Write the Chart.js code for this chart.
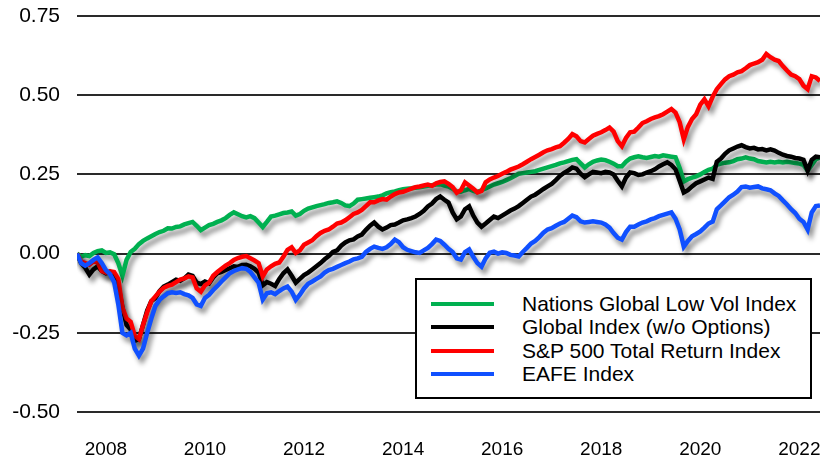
<!DOCTYPE html>
<html>
<head>
<meta charset="utf-8">
<script src="https://cdn.jsdelivr.net/npm/chart.js@4.4.1/dist/chart.umd.min.js"></script>
<style>
  html, body { margin: 0; padding: 0; background: #fff; }
  #wrap { position: relative; width: 826px; height: 459px; }
  #legend {
    position: absolute; left: 415px; top: 278px; width: 393px; height: 117px;
    border: 2px solid #000; background: #fff; box-sizing: content-box;
    font-family: 'Liberation Sans', Arial, sans-serif; font-size: 21px; color: #000;
  }
  #legend .row { position: absolute; left: 0; height: 24px; line-height: 24px; white-space: nowrap; }
  #legend .sw { position: absolute; left: 14px; top: 10px; width: 63px; height: 4px; }
  #legend .lb { position: absolute; left: 105px; top: 0; }
</style>
</head>
<body>
<div id="wrap">
  <canvas id="grafico" width="826" height="459"></canvas>
  <div id="legend"></div>
</div>
<script>
// monthly points, first one is Dec 2007
const inicioAno = 2007;
const inicioMes = 12;

const rotulosAnos = [2008, 2010, 2012, 2014, 2016, 2018, 2020, 2022];
const ticksY = [-0.5, -0.25, 0, 0.25, 0.5, 0.75];

const nomes = [
  'Nations Global Low Vol Index',
  'Global Index (w/o Options)',
  'S&P 500 Total Return Index',
  'EAFE Index'
];
const cores = ['#00b050', '#000000', '#ff0000', '#1050ff'];

const lowVol = [
  0.000, -0.010, -0.005, -0.008, 0.002, 0.008, 0.010, 0.002, 0.004, -0.002,
  -0.030, -0.070, -0.020, 0.005, 0.015, 0.030, 0.040, 0.048, 0.055, 0.062,
  0.068, 0.072, 0.080, 0.079, 0.084, 0.086, 0.092, 0.096, 0.100, 0.088,
  0.074, 0.082, 0.090, 0.094, 0.100, 0.105, 0.112, 0.122, 0.130, 0.124,
  0.118, 0.114, 0.118, 0.112, 0.098, 0.084, 0.100, 0.117, 0.120, 0.124,
  0.128, 0.130, 0.133, 0.120, 0.125, 0.135, 0.142, 0.146, 0.150, 0.153,
  0.156, 0.160, 0.162, 0.165, 0.160, 0.152, 0.150, 0.158, 0.170, 0.172,
  0.174, 0.176, 0.178, 0.180, 0.184, 0.190, 0.194, 0.196, 0.200, 0.203,
  0.205, 0.206, 0.208, 0.209, 0.212, 0.214, 0.216, 0.218, 0.219, 0.215,
  0.212, 0.205, 0.196, 0.195, 0.200, 0.204, 0.198, 0.194, 0.200, 0.206,
  0.212, 0.218, 0.222, 0.226, 0.232, 0.238, 0.245, 0.252, 0.254, 0.256,
  0.258, 0.260, 0.264, 0.268, 0.272, 0.276, 0.280, 0.285, 0.288, 0.292,
  0.296, 0.298, 0.285, 0.272, 0.282, 0.290, 0.294, 0.297, 0.295, 0.290,
  0.284, 0.276, 0.276, 0.290, 0.300, 0.304, 0.307, 0.304, 0.302, 0.305,
  0.308, 0.306, 0.310, 0.308, 0.306, 0.304, 0.270, 0.228, 0.235, 0.240,
  0.244, 0.250, 0.258, 0.264, 0.268, 0.280, 0.284, 0.287, 0.288, 0.292,
  0.298, 0.300, 0.304, 0.300, 0.298, 0.292, 0.290, 0.288, 0.290, 0.288,
  0.290, 0.288, 0.290, 0.288, 0.286, 0.284, 0.280, 0.262, 0.280, 0.298,
  0.303
];

const globalIdx = [
  0.000, -0.030, -0.045, -0.066, -0.050, -0.040, -0.055, -0.062, -0.058, -0.072,
  -0.100, -0.170, -0.225, -0.240, -0.275, -0.270, -0.225, -0.180, -0.150, -0.140,
  -0.118, -0.104, -0.098, -0.090, -0.082, -0.086, -0.078, -0.066, -0.070, -0.092,
  -0.096, -0.088, -0.094, -0.075, -0.062, -0.058, -0.052, -0.046, -0.040, -0.042,
  -0.036, -0.035, -0.040, -0.048, -0.060, -0.100, -0.090, -0.095, -0.102, -0.080,
  -0.062, -0.050, -0.070, -0.092, -0.080, -0.068, -0.060, -0.050, -0.040, -0.030,
  -0.018, -0.008, 0.005, 0.010, 0.025, 0.035, 0.042, 0.045, 0.054, 0.060,
  0.075, 0.088, 0.098, 0.085, 0.076, 0.082, 0.090, 0.092, 0.098, 0.105,
  0.108, 0.112, 0.117, 0.125, 0.135, 0.149, 0.158, 0.172, 0.180, 0.170,
  0.161, 0.130, 0.108, 0.117, 0.140, 0.149, 0.120, 0.098, 0.085, 0.095,
  0.106, 0.117, 0.112, 0.120, 0.128, 0.136, 0.142, 0.150, 0.160, 0.170,
  0.180, 0.186, 0.195, 0.204, 0.212, 0.220, 0.232, 0.245, 0.255, 0.262,
  0.272, 0.268, 0.252, 0.241, 0.250, 0.258, 0.256, 0.254, 0.258, 0.256,
  0.250, 0.230, 0.212, 0.240, 0.256, 0.254, 0.248, 0.250, 0.256, 0.260,
  0.266, 0.275, 0.282, 0.288, 0.280, 0.266, 0.230, 0.193, 0.200, 0.212,
  0.222, 0.228, 0.234, 0.240, 0.236, 0.290, 0.300, 0.315, 0.326, 0.332,
  0.338, 0.342, 0.336, 0.332, 0.334, 0.329, 0.330, 0.326, 0.329, 0.325,
  0.318, 0.312, 0.308, 0.306, 0.302, 0.300, 0.296, 0.262, 0.296, 0.306,
  0.304
];

const sp500 = [
  0.000, -0.025, -0.030, -0.035, -0.025, -0.028, -0.055, -0.060, -0.056, -0.058,
  -0.080, -0.170, -0.205, -0.215, -0.260, -0.270, -0.225, -0.185, -0.150, -0.135,
  -0.120, -0.108, -0.102, -0.098, -0.090, -0.082, -0.078, -0.072, -0.075, -0.110,
  -0.120, -0.100, -0.092, -0.070, -0.058, -0.048, -0.038, -0.030, -0.020, -0.014,
  -0.010, -0.008, -0.015, -0.022, -0.030, -0.072, -0.050, -0.040, -0.032, -0.028,
  -0.010, 0.012, 0.020, 0.002, 0.010, 0.028, 0.035, 0.042, 0.055, 0.065,
  0.072, 0.076, 0.085, 0.095, 0.098, 0.105, 0.115, 0.125, 0.130, 0.138,
  0.150, 0.162, 0.162, 0.168, 0.172, 0.170, 0.180, 0.188, 0.193, 0.195,
  0.200, 0.205, 0.210, 0.212, 0.215, 0.218, 0.214, 0.222, 0.226, 0.228,
  0.220, 0.210, 0.192, 0.200, 0.225, 0.215, 0.205, 0.193, 0.198, 0.225,
  0.234, 0.240, 0.245, 0.252, 0.258, 0.265, 0.270, 0.275, 0.282, 0.290,
  0.298, 0.305, 0.312, 0.320, 0.326, 0.330, 0.335, 0.339, 0.350, 0.362,
  0.377, 0.370, 0.355, 0.351, 0.362, 0.372, 0.378, 0.383, 0.390, 0.398,
  0.385, 0.355, 0.339, 0.365, 0.383, 0.385, 0.398, 0.412, 0.418, 0.425,
  0.430, 0.434, 0.440, 0.448, 0.456, 0.445, 0.415, 0.361, 0.400, 0.425,
  0.440, 0.470, 0.487, 0.465, 0.495, 0.519, 0.535, 0.550, 0.560, 0.565,
  0.572, 0.576, 0.585, 0.595, 0.600, 0.604, 0.612, 0.630, 0.620, 0.612,
  0.608, 0.592, 0.578, 0.565, 0.560, 0.551, 0.530, 0.519, 0.560, 0.556,
  0.545
];

const eafe = [
  0.000, -0.030, -0.038, -0.030, -0.020, -0.012, -0.030, -0.052, -0.065, -0.090,
  -0.160, -0.250, -0.258, -0.250, -0.300, -0.322, -0.300, -0.250, -0.205, -0.165,
  -0.146, -0.135, -0.125, -0.122, -0.124, -0.122, -0.128, -0.132, -0.140, -0.160,
  -0.165, -0.140, -0.130, -0.115, -0.102, -0.088, -0.075, -0.062, -0.055, -0.050,
  -0.046, -0.048, -0.058, -0.075, -0.092, -0.145, -0.125, -0.122, -0.128, -0.118,
  -0.110, -0.104, -0.120, -0.146, -0.130, -0.110, -0.095, -0.088, -0.080, -0.072,
  -0.060, -0.052, -0.048, -0.042, -0.036, -0.030, -0.025, -0.018, -0.015, -0.010,
  0.005, 0.015, 0.022, 0.018, 0.015, 0.020, 0.030, 0.044, 0.036, 0.020,
  0.012, 0.008, 0.004, 0.002, 0.010, 0.018, 0.030, 0.044, 0.040, 0.028,
  0.015, 0.005, -0.015, -0.019, 0.005, 0.013, -0.010, -0.030, -0.041, -0.015,
  0.003, 0.006, 0.000, 0.004, 0.002, -0.004, -0.006, -0.009, 0.005, 0.018,
  0.032, 0.040, 0.052, 0.066, 0.076, 0.080, 0.088, 0.095, 0.100, 0.110,
  0.120, 0.115, 0.102, 0.098, 0.100, 0.102, 0.100, 0.098, 0.092, 0.082,
  0.065, 0.050, 0.044, 0.068, 0.085, 0.085, 0.092, 0.098, 0.102, 0.108,
  0.112, 0.118, 0.122, 0.126, 0.130, 0.110, 0.076, 0.022, 0.040, 0.055,
  0.062, 0.070, 0.082, 0.095, 0.101, 0.140, 0.152, 0.165, 0.178, 0.186,
  0.196, 0.210, 0.212, 0.208, 0.210, 0.212, 0.206, 0.203, 0.200, 0.190,
  0.182, 0.168, 0.155, 0.140, 0.128, 0.110, 0.100, 0.076, 0.130, 0.150,
  0.152
];

const series = [lowVol, globalIdx, sp500, eafe];
// which line sits on top (lower = drawn later)
const ordem = [3, 2, 1, 0];

const t0 = inicioAno + (inicioMes - 1) / 12;
const paraPontos = (vals) => vals.map((v, i) => ({ x: t0 + i / 12, y: v }));

const fonte = "'Liberation Sans', Arial, sans-serif";

// sombra nas linhas
const sombraPlugin = {
  id: 'sombra',
  beforeDatasetsDraw(chart) {
    const ctx = chart.ctx;
    ctx.save();
    ctx.shadowColor = 'rgba(0,0,0,0.45)';
    ctx.shadowBlur = 5;
    ctx.shadowOffsetX = 3;
    ctx.shadowOffsetY = 5;
  },
  afterDatasetsDraw(chart) {
    chart.ctx.restore();
  }
};

const ctx = document.getElementById('grafico').getContext('2d');
const chart = new Chart(ctx, {
  type: 'line',
  data: {
    datasets: series.map((vals, k) => ({
      label: nomes[k],
      data: paraPontos(vals),
      borderColor: cores[k],
      borderWidth: 4.5,
      pointRadius: 0,
      tension: 0,
      fill: false,
      order: ordem[k]
    }))
  },
  options: {
    responsive: false,
    animation: false,
    layout: { padding: { top: 16, right: 6, bottom: 0, left: 0 } },
    plugins: {
      legend: { display: false },
      tooltip: { enabled: false }
    },
    scales: {
      x: {
        type: 'linear',
        min: t0,
        max: t0 + (lowVol.length - 1) / 12,
        grid: { display: false },
        border: { display: false },
        afterBuildTicks: (scale) => {
          scale.ticks = rotulosAnos.map(a => ({ value: a + 0.5 }));
        },
        afterFit: (scale) => {
          scale.height = 47;
          scale.paddingLeft = 0;
          scale.paddingRight = 0;
        },
        ticks: {
          autoSkip: false,
          maxRotation: 0,
          padding: 18,
          color: '#000',
          font: { family: fonte, size: 19 },
          callback: (v) => String(Math.floor(v))
        }
      },
      y: {
        min: -0.5,
        max: 0.75,
        afterBuildTicks: (scale) => {
          scale.ticks = ticksY.map(v => ({ value: v }));
        },
        afterFit: (scale) => {
          scale.width = 77;
          scale.paddingTop = 0;
          scale.paddingBottom = 0;
        },
        grid: { color: '#2a2a2a', lineWidth: 2, drawTicks: false },
        border: { display: false },
        ticks: {
          padding: 17,
          color: '#000',
          font: { family: fonte, size: 21 },
          callback: (v) => v.toFixed(2)
        }
      }
    }
  },
  plugins: [sombraPlugin]
});

// legenda em HTML
const leg = document.getElementById('legend');
nomes.forEach((nome, k) => {
  const row = document.createElement('div');
  row.className = 'row';
  row.style.top = (12 + k * 23.4) + 'px';
  row.innerHTML = '<span class="sw" style="background:' + cores[k] + '"></span><span class="lb"></span>';
  row.querySelector('.lb').textContent = nome;
  leg.appendChild(row);
});
</script>
</body>
</html>
